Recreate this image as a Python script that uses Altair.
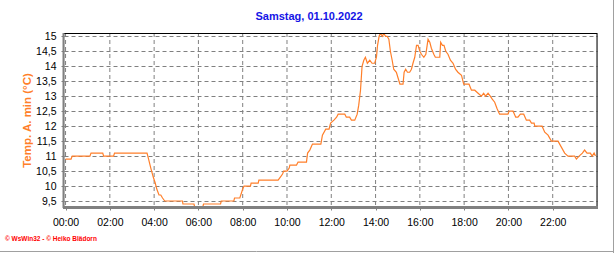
import altair as alt
import pandas as pd

hours = [0.0, 0.25, 0.3, 1.1, 1.15, 1.68, 1.72, 2.17, 2.21, 3.68, 3.75, 3.85, 3.96, 4.05, 4.12, 4.22, 4.3, 4.38, 4.48,
         5.28, 5.3, 5.8, 5.83, 6.2, 6.23, 7.0, 7.03, 7.6, 7.63, 7.87, 8.0, 8.06, 8.35, 8.38, 8.7, 8.73, 9.6, 9.7, 9.8,
         9.85, 10.0, 10.1, 10.13, 10.43, 10.5, 10.88, 10.93, 11.03, 11.15, 11.53, 11.6, 11.75, 11.9, 11.97, 12.12,
         12.24, 12.31, 12.61, 12.68, 12.83, 12.91, 13.06, 13.17, 13.24, 13.32, 13.39, 13.47, 13.54, 13.63, 13.74,
         13.84, 13.96, 14.04, 14.09, 14.16, 14.22, 14.31, 14.37, 14.45, 14.52, 14.6, 14.67, 14.75, 14.82, 14.94,
         15.02, 15.1, 15.17, 15.24, 15.29, 15.36, 15.44, 15.54, 15.62, 15.69, 15.77, 15.85, 15.92, 16.0, 16.07,
         16.18, 16.27, 16.37, 16.45, 16.52, 16.63, 16.7, 16.9, 16.94, 17.02, 17.09, 17.17, 17.27, 17.38, 17.5,
         17.61, 17.72, 17.88, 17.98, 18.07, 18.22, 18.33, 18.48, 18.63, 18.78, 18.88, 18.97, 19.08, 19.18, 19.27,
         19.38, 19.48, 19.6, 19.98, 20.03, 20.21, 20.33, 20.43, 20.54, 20.69, 20.81, 20.96, 21.04, 21.16, 21.19,
         21.52, 21.64, 21.79, 21.94, 22.24, 22.39, 22.54, 22.69, 22.99, 23.07, 23.19, 23.34, 23.44, 23.55, 23.7,
         23.78, 23.87, 23.93]
temps = [10.9, 10.9, 11.0, 11.0, 11.1, 11.1, 11.0, 11.0, 11.1, 11.1, 10.9, 10.6, 10.3, 10.1, 9.9, 9.7, 9.7, 9.6, 9.5,
         9.5, 9.4, 9.4, 9.3, 9.3, 9.4, 9.4, 9.5, 9.5, 9.6, 9.6, 9.9, 10.0, 10.0, 10.1, 10.1, 10.2, 10.2, 10.3, 10.4,
         10.5, 10.5, 10.6, 10.7, 10.7, 10.8, 10.8, 11.1, 11.2, 11.4, 11.4, 11.7, 11.9, 11.9, 12.1, 12.2,
         12.3, 12.4, 12.4, 12.3, 12.3, 12.2, 12.2, 12.4, 12.7, 13.2, 14.0, 14.2, 14.3, 14.1, 14.2,
         14.1, 14.1, 14.3, 14.7, 15.0, 15.1, 15.0, 15.1, 15.0, 15.0, 14.9, 14.5, 14.2, 13.9, 13.8,
         13.6, 13.4, 13.4, 13.4, 13.8, 13.9, 13.8, 13.8, 13.9, 14.1, 14.3, 14.7, 14.7, 14.5, 14.4,
         14.3, 14.4, 14.9, 14.8, 14.6, 14.4, 14.3, 14.3, 14.8, 14.7, 14.7, 14.5, 14.4, 14.2, 14.1,
         13.9, 13.8, 13.7, 13.4, 13.4, 13.4, 13.2, 13.2, 13.1, 13.0, 13.1, 13.0, 13.1, 13.0, 12.9,
         12.8, 12.6, 12.4, 12.4, 12.5, 12.5, 12.3, 12.3, 12.4, 12.4, 12.2, 12.2, 12.1, 12.1, 12.0,
         12.0, 11.8, 11.7, 11.5, 11.5, 11.3, 11.1, 11.0, 11.0, 10.9, 11.0, 11.1, 11.2, 11.1, 11.1,
         11.0, 11.1, 11.0]

x_ticks = [0, 2, 4, 6, 8, 10, 12, 14, 16, 18, 20, 22]
minor_ticks = [i * 0.5 for i in range(48)]
y_ticks = [9.5, 10, 10.5, 11, 11.5, 12, 12.5, 13, 13.5, 14, 14.5, 15]

title_text = "Samstag, 01.10.2022"
y_title = "Temp. A. min (°C)"
footer_text = "© WsWin32 - © Heiko Blädorn"

W, H = 533, 174
FONT = "Liberation Sans"
ORANGE = "#ff7f2a"
GRID = "#808080"

df = pd.DataFrame({"h": hours, "t": temps})
xscale = alt.Scale(domain=[-0.07, 24], nice=False, zero=False)
yscale = alt.Scale(domain=[9.3, 15.11], nice=False, zero=False)

vgrid = alt.Chart(pd.DataFrame({"h": x_ticks})).mark_rule(
    color=GRID, strokeWidth=1, strokeDash=[4, 3]).encode(
    x=alt.X("h:Q", scale=xscale, axis=alt.Axis(
        values=minor_ticks, title=None, domain=False, grid=False,
        tickColor=GRID, tickSize=3, labelPadding=7, labelFontSize=10.5, labelColor="black",
        labelFont=FONT, labelFlush=False,
        labelExpr="datum.value % 2 == 0 ? (datum.value < 10 ? '0' : '') + datum.value + ':00' : ''")),
    y=alt.value(0), y2=alt.value(H))

line = alt.Chart(df).mark_line(color=ORANGE, strokeWidth=1.2, clip=True).encode(
    x=alt.X("h:Q", scale=xscale),
    y=alt.Y("t:Q", scale=yscale, axis=alt.Axis(
        values=y_ticks, title=y_title, domain=False, grid=True, gridColor=GRID, gridDash=[4, 3],
        tickColor=GRID, tickSize=3, labelPadding=5, labelFontSize=10.5, labelColor="black",
        labelFont=FONT,
        labelExpr="datum.value % 1 == 0 ? format(datum.value, 'd') : replace(format(datum.value, '.1f'), '.', ',')",
        titleColor=ORANGE, titleFont=FONT, titleFontSize=11.5, titleFontWeight="bold",
        titleX=-37, titleY=H / 2, titleAngle=-90, titleAlign="center", titleBaseline="middle")),
)

one = pd.DataFrame({"a": [0]})
top = alt.Chart(one).mark_rule(color="black", strokeWidth=1).encode(
    x=alt.value(0), x2=alt.value(W), y=alt.value(0.5))
right = alt.Chart(one).mark_rule(color="black", strokeWidth=1).encode(
    x=alt.value(W), y=alt.value(0), y2=alt.value(H))
bottom = alt.Chart(one).mark_rule(color=GRID, strokeWidth=3).encode(
    x=alt.value(-1), x2=alt.value(W + 1), y=alt.value(H + 0.5))
left = alt.Chart(one).mark_rule(color=GRID, strokeWidth=2).encode(
    x=alt.value(-0.5), y=alt.value(0), y2=alt.value(H + 1))

win_right = alt.Chart(one).mark_rule(color="#a0a0a0", strokeWidth=1).encode(
    x=alt.value(613 - 64 + 0.5), y=alt.value(-33), y2=alt.value(253 - 33))
win_bottom = alt.Chart(one).mark_rule(color="#a0a0a0", strokeWidth=1).encode(
    x=alt.value(-64), x2=alt.value(614 - 64), y=alt.value(251 - 33 + 0.5))

title = alt.Chart(pd.DataFrame({"s": [title_text]})).mark_text(
    color="#1414e6", font=FONT, fontSize=11, fontWeight="bold", align="center", baseline="middle").encode(
    x=alt.value(309 - 64), y=alt.value(17 - 33), text="s:N")

footer = alt.Chart(pd.DataFrame({"s": [footer_text]})).mark_text(
    color="#ff0000", font=FONT, fontSize=6.5, fontWeight="bold", align="left", baseline="middle").encode(
    x=alt.value(5 - 64), y=alt.value(239 - 33), text="s:N")

chart = alt.layer(vgrid, line, top, right, bottom, left, win_right, win_bottom, title, footer).properties(
    width=W, height=H,
    autosize=alt.AutoSizeParams(type="none"),
    padding={"left": 64, "top": 33, "right": 19, "bottom": 46},
).configure_view(stroke=None).configure(background="white")

chart.save("out.html", embed_options={"renderer": "svg", "actions": False})
